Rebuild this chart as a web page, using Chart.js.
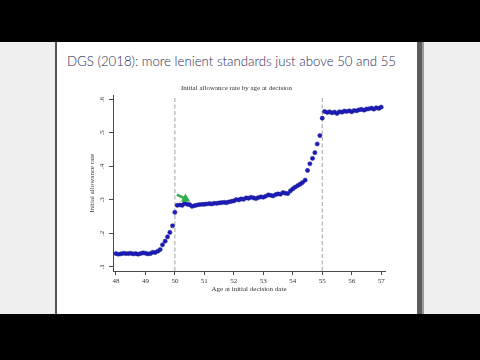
<!DOCTYPE html>
<html><head><meta charset="utf-8">
<script src="https://cdn.jsdelivr.net/npm/chart.js@4"></script>
<style>
html,body{margin:0;padding:0;width:480px;height:360px;overflow:hidden;background:#efefef;}
.abs{position:absolute;}
#topbar{left:0;top:0;width:480px;height:42px;background:#000;}
#botbar{left:0;top:314px;width:480px;height:46px;background:#000;}
#slide{left:55px;top:42px;width:369px;height:272px;background:#fff;}
#lb{left:55px;top:42px;width:2px;height:272px;background:#555;}
#rb{left:417px;top:42px;width:5px;height:272px;background:#5c5c5c;}
#rb2{left:422px;top:42px;width:2px;height:272px;background:#9a9a9a;}
#title{left:67px;top:54px;font-family:Lato,"Open Sans",sans-serif;font-weight:300;font-size:14.5px;line-height:14px;color:#2c2c56;white-space:nowrap;transform-origin:0 0;}
#c{position:absolute;left:0;top:0;}
</style></head>
<body>
<div id="topbar" class="abs"></div>
<div id="botbar" class="abs"></div>
<div id="slide" class="abs"></div>
<div id="lb" class="abs"></div>
<div id="rb" class="abs"></div>
<div id="rb2" class="abs"></div>
<div id="title" class="abs">DGS (2018): more lenient standards just above 50 and 55</div>
<canvas id="c" width="480" height="360"></canvas>
<script>
// ---- data ----
const chartTitle = 'Initial allowance rate by age at decision';
const xAxisTitle = 'Age at initial decision date';
const yAxisTitle = 'Initial allowance rate';
const xTickValues = [48, 49, 50, 51, 52, 53, 54, 55, 56, 57];
const yTickValues = [0.1, 0.2, 0.3, 0.4, 0.5, 0.6];
const yTickLabels = ['.1', '.2', '.3', '.4', '.5', '.6'];
const cutoffs = [50, 55];
const ages = [
  48.00, 48.08, 48.17, 48.25, 48.33, 48.42, 48.50, 48.58, 48.67, 48.75, 48.83, 48.92,
  49.00, 49.08, 49.17, 49.25, 49.33, 49.42, 49.50, 49.58, 49.67, 49.75, 49.83, 49.92,
  50.00, 50.08, 50.17, 50.25, 50.33, 50.42, 50.50, 50.58, 50.67, 50.75, 50.83, 50.92,
  51.00, 51.08, 51.17, 51.25, 51.33, 51.42, 51.50, 51.58, 51.67, 51.75, 51.83, 51.92,
  52.00, 52.08, 52.17, 52.25, 52.33, 52.42, 52.50, 52.58, 52.67, 52.75, 52.83, 52.92,
  53.00, 53.08, 53.17, 53.25, 53.33, 53.42, 53.50, 53.58, 53.67, 53.75, 53.83, 53.92,
  54.00, 54.08, 54.17, 54.25, 54.33, 54.42, 54.50, 54.58, 54.67, 54.75, 54.83, 54.92,
  55.00, 55.08, 55.17, 55.25, 55.33, 55.42, 55.50, 55.58, 55.67, 55.75, 55.83, 55.92,
  56.00, 56.08, 56.17, 56.25, 56.33, 56.42, 56.50, 56.58, 56.67, 56.75, 56.83, 56.92,
  57.00
];
const allowanceRate = [
  0.140, 0.138, 0.139, 0.141, 0.140, 0.140, 0.141, 0.139, 0.140, 0.138, 0.140, 0.142,
  0.141, 0.139, 0.140, 0.144, 0.143, 0.147, 0.152, 0.166, 0.177, 0.190, 0.203, 0.223,
  0.263, 0.284, 0.285, 0.284, 0.290, 0.287, 0.286, 0.281, 0.283, 0.285, 0.286, 0.287,
  0.287, 0.288, 0.289, 0.288, 0.290, 0.290, 0.291, 0.292, 0.293, 0.292, 0.294, 0.296,
  0.297, 0.301, 0.300, 0.303, 0.302, 0.306, 0.305, 0.308, 0.306, 0.304, 0.307, 0.309,
  0.308, 0.311, 0.315, 0.314, 0.312, 0.316, 0.318, 0.317, 0.322, 0.320, 0.319, 0.327,
  0.333, 0.338, 0.343, 0.347, 0.352, 0.359, 0.388, 0.408, 0.424, 0.441, 0.467, 0.492,
  0.544, 0.564, 0.561, 0.563, 0.560, 0.562, 0.558, 0.563, 0.562, 0.565, 0.564, 0.566,
  0.563, 0.567, 0.566, 0.569, 0.570, 0.568, 0.571, 0.572, 0.574, 0.571, 0.575, 0.573,
  0.577
];
const arrowX = [50.07, 50.36];
const arrowY = [0.316, 0.303];

// ---- slide title fit ----
const t = document.getElementById('title');
const tw = t.getBoundingClientRect().width;
t.style.transform = 'scaleX(' + (329 / tw) + ')';

// ---- chart ----
const SERIF = '"Liberation Serif", "DejaVu Serif", serif';
const axisColor = '#4a4a4a';
const xMin = 47.9, xMax = 57.13, yMin = 0.088, yMax = 0.612;

const yRotLabels = {
  id: 'yRotLabels',
  afterDraw(chart) {
    const s = chart.scales.y, ctx = chart.ctx;
    ctx.save();
    ctx.font = '7px ' + SERIF;
    ctx.fillStyle = '#333';
    ctx.textAlign = 'center';
    ctx.textBaseline = 'middle';
    yTickValues.forEach((v, i) => {
      const py = s.getPixelForValue(v);
      ctx.save();
      ctx.translate(s.right - 11, py);
      ctx.rotate(-Math.PI / 2);
      ctx.fillText(yTickLabels[i], 0, 0);
      ctx.restore();
    });
    ctx.restore();
  }
};

const datasets = [];
cutoffs.forEach(c => {
  datasets.push({
    type: 'line',
    data: [{x: c, y: yMin}, {x: c, y: yMax}],
    borderColor: '#a0a0a0', borderWidth: 1, borderDash: [4, 2.5],
    pointRadius: 0, showLine: true, order: 3
  });
});
datasets.push({
  type: 'line',
  data: ages.map((a, i) => ({x: a, y: allowanceRate[i]})),
  showLine: false,
  pointRadius: 2.1,
  pointBackgroundColor: '#1c1cc0',
  pointBorderColor: '#18188a',
  pointBorderWidth: 0.5,
  order: 1, clip: false
});
datasets.push({
  type: 'line',
  data: arrowX.map((a, i) => ({x: a, y: arrowY[i]})),
  showLine: true,
  borderColor: '#2fae4a', borderWidth: 2.6,
  pointRadius: [0, 2.8],
  pointStyle: 'triangle',
  pointRotation: 119,
  pointBackgroundColor: '#2fae4a', pointBorderColor: '#2fae4a',
  order: 0
});

new Chart(document.getElementById('c'), {
  type: 'line',
  data: { datasets },
  plugins: [yRotLabels],
  options: {
    responsive: false, animation: false,
    layout: { padding: { left: 88, right: 95, top: 84, bottom: 67 } },
    plugins: {
      legend: { display: false },
      tooltip: { enabled: false },
      title: {
        display: true, text: chartTitle, color: '#333',
        font: { family: SERIF, size: 7, weight: 'normal' },
        padding: { top: 0, bottom: 3 }
      }
    },
    scales: {
      x: {
        type: 'linear', min: xMin, max: xMax,
        afterBuildTicks: s => { s.ticks = xTickValues.map(v => ({value: v})); },
        afterFit: s => { s.height = 22; },
        ticks: { autoSkip: false, maxRotation: 0, minRotation: 0, padding: 2,
          color: '#333', font: { family: SERIF, size: 7 },
          callback: v => String(v) },
        grid: { drawOnChartArea: false, drawTicks: true, tickLength: 4, color: axisColor, tickColor: axisColor },
        border: { display: true, color: axisColor, width: 1 },
        title: { display: true, text: xAxisTitle, color: '#333',
          font: { family: SERIF, size: 7 }, padding: 0 }
      },
      y: {
        type: 'linear', min: yMin, max: yMax,
        afterBuildTicks: s => { s.ticks = yTickValues.map(v => ({value: v})); },
        afterFit: s => { s.width = 25; },
        ticks: { display: false },
        grid: { drawOnChartArea: false, drawTicks: true, tickLength: 4, color: axisColor, tickColor: axisColor },
        border: { display: true, color: axisColor, width: 1 },
        title: { display: true, text: yAxisTitle, color: '#333',
          font: { family: SERIF, size: 7 }, padding: 0 }
      }
    }
  }
});
</script>
</body></html>
